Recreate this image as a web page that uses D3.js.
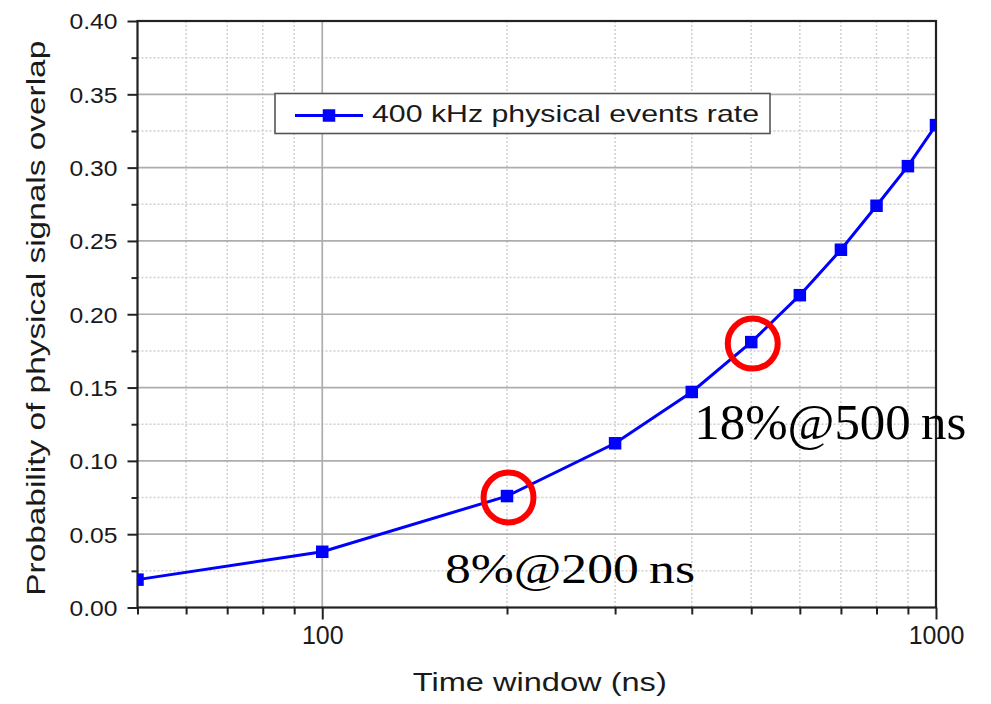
<!DOCTYPE html>
<html>
<head>
<meta charset="utf-8">
<script src="https://cdn.jsdelivr.net/npm/d3@7/dist/d3.min.js"></script>
<style>
  html, body { margin: 0; padding: 0; background: #fff; }
  svg { display: block; }
</style>
</head>
<body>
<svg id="chart" width="991" height="704"></svg>
<script>
// ---- data ----
const timeWindow = [50, 100, 200, 300, 400, 500, 600, 700, 800, 900, 1000];
const overlapProb = [0.019, 0.038, 0.076, 0.112, 0.147, 0.181, 0.213, 0.244, 0.274, 0.301, 0.329];
const seriesName = "400 kHz physical events rate";
const xMajorTicks = [100, 1000];
const xMinorTicks = [50, 60, 70, 80, 90, 200, 300, 400, 500, 600, 700, 800, 900];
const yMajorTicks = [0, 0.05, 0.10, 0.15, 0.20, 0.25, 0.30, 0.35, 0.40];
const yMinorTicks = [0.025, 0.075, 0.125, 0.175, 0.225, 0.275, 0.325, 0.375];
const highlights = [
  { x: 200, y: 0.076, label: "8%@200\u2009ns" },
  { x: 500, y: 0.181, label: "18%@500\u2009ns" }
];
const xTitle = "Time window (ns)";
const yTitle = "Probability of physical signals overlap";

// ---- layout ----
const L = 137.5, R = 936, T = 21, B = 607.5;
const svg = d3.select("#chart");
const x = d3.scaleLog().domain([50, 1000]).range([L, R]);
const y = d3.scaleLinear().domain([0, 0.4]).range([B, T]);
const sans = "Liberation Sans, Arial, sans-serif";
const serif = "Liberation Serif, Times New Roman, serif";

svg.append("defs").append("clipPath").attr("id", "plotclip")
  .append("rect").attr("x", L).attr("y", T).attr("width", R - L).attr("height", B - T);

// ---- grid ----
const grid = svg.append("g");
grid.selectAll(".ymin").data(yMinorTicks).join("line")
  .attr("x1", L).attr("x2", R).attr("y1", d => y(d)).attr("y2", d => y(d))
  .attr("stroke", "#d0d0d0").attr("stroke-width", 1.5).attr("stroke-dasharray", "2,2");
grid.selectAll(".xmin").data(xMinorTicks.filter(d => d > 50)).join("line")
  .attr("y1", T).attr("y2", B).attr("x1", d => x(d)).attr("x2", d => x(d))
  .attr("stroke", "#d0d0d0").attr("stroke-width", 1.5).attr("stroke-dasharray", "2,2");
grid.selectAll(".ymaj").data(yMajorTicks.filter(d => d > 0 && d < 0.4)).join("line")
  .attr("x1", L).attr("x2", R).attr("y1", d => y(d)).attr("y2", d => y(d))
  .attr("stroke", "#adadad").attr("stroke-width", 1.7);
grid.selectAll(".xmaj").data(xMajorTicks.filter(d => d < 1000)).join("line")
  .attr("y1", T).attr("y2", B).attr("x1", d => x(d)).attr("x2", d => x(d))
  .attr("stroke", "#adadad").attr("stroke-width", 1.7);

// ---- axes ----
function styleAxis(g) {
  g.select(".domain").remove();
  g.selectAll("line").attr("stroke", "#222").attr("stroke-width", 2);
}
svg.append("g").attr("transform", `translate(0,${B})`)
  .call(d3.axisBottom(x).tickValues(xMinorTicks).tickSize(7).tickFormat(""))
  .call(styleAxis);
const xMaj = svg.append("g").attr("transform", `translate(0,${B})`)
  .call(d3.axisBottom(x).tickValues(xMajorTicks).tickSize(12).tickPadding(7).tickFormat(d3.format("d")))
  .call(styleAxis);
xMaj.selectAll("text").attr("font-family", sans).attr("font-size", 25).attr("fill", "#1a1a1a")
  .attr("dy", "0.71em");

svg.append("g").attr("transform", `translate(${L},0)`)
  .call(d3.axisLeft(y).tickValues(yMinorTicks).tickSize(6).tickFormat(""))
  .call(styleAxis);
const yMaj = svg.append("g").attr("transform", `translate(${L},0)`)
  .call(d3.axisLeft(y).tickValues(yMajorTicks).tickSize(10).tickPadding(10).tickFormat(d3.format(".2f")))
  .call(styleAxis);
yMaj.selectAll("text").attr("font-family", sans).attr("font-size", 22).attr("fill", "#1a1a1a")
  .attr("textLength", 48).attr("lengthAdjust", "spacingAndGlyphs").attr("dy", "0.36em");

// frame
svg.append("rect").attr("x", L).attr("y", T).attr("width", R - L).attr("height", B - T)
  .attr("fill", "none").attr("stroke", "#222").attr("stroke-width", 2.2);

// ---- series ----
const pts = timeWindow.map((t, i) => [t, overlapProb[i]]);
const plot = svg.append("g").attr("clip-path", "url(#plotclip)");
plot.append("path").datum(pts)
  .attr("d", d3.line().x(d => x(d[0])).y(d => y(d[1])))
  .attr("fill", "none").attr("stroke", "#0000ff").attr("stroke-width", 3);
const ms = 12.5;
plot.selectAll(".m").data(pts).join("rect")
  .attr("x", d => x(d[0]) - ms / 2).attr("y", d => y(d[1]) - ms / 2)
  .attr("width", ms).attr("height", ms).attr("fill", "#0000ff");

// ---- highlights ----
svg.selectAll(".hc").data(highlights).join("circle")
  .attr("cx", d => x(d.x) + 1.5).attr("cy", d => y(d.y) + 1.5).attr("r", 25)
  .attr("fill", "none").attr("stroke", "#ff0000").attr("stroke-width", 6);
svg.append("text").datum(highlights[0])
  .attr("x", d => x(d.x) - 62).attr("y", d => y(d.y) + 87)
  .attr("font-family", serif).attr("font-size", 43).attr("fill", "#000")
  .attr("textLength", 250).attr("lengthAdjust", "spacingAndGlyphs")
  .text(d => d.label);
svg.append("text").datum(highlights[1])
  .attr("x", d => x(d.x) - 57).attr("y", d => y(d.y) + 97)
  .attr("font-family", serif).attr("font-size", 50).attr("fill", "#000")
  .attr("textLength", 272).attr("lengthAdjust", "spacingAndGlyphs")
  .text(d => d.label);

// ---- legend ----
const lg = svg.append("g");
lg.append("rect").attr("x", 275).attr("y", 93.5).attr("width", 495).attr("height", 40)
  .attr("fill", "#fff").attr("stroke", "#555").attr("stroke-width", 1.6);
lg.append("line").attr("x1", 295).attr("x2", 363).attr("y1", 115.5).attr("y2", 115.5)
  .attr("stroke", "#0000ff").attr("stroke-width", 3);
lg.append("rect").attr("x", 329 - ms / 2).attr("y", 115.5 - ms / 2).attr("width", ms).attr("height", ms)
  .attr("fill", "#0000ff");
lg.append("text").attr("x", 372).attr("y", 122)
  .attr("font-family", sans).attr("font-size", 24).attr("fill", "#1a1a1a")
  .attr("textLength", 387).attr("lengthAdjust", "spacingAndGlyphs")
  .text(seriesName);

// ---- titles ----
svg.append("text").attr("x", (L + R) / 2 + 3).attr("y", 691)
  .attr("text-anchor", "middle").attr("font-family", sans).attr("font-size", 25).attr("fill", "#1a1a1a")
  .attr("textLength", 254).attr("lengthAdjust", "spacingAndGlyphs")
  .text(xTitle);
svg.append("text").attr("transform", `translate(45,${(T + B) / 2 + 4}) rotate(-90)`)
  .attr("text-anchor", "middle").attr("font-family", sans).attr("font-size", 25).attr("fill", "#1a1a1a")
  .attr("textLength", 555).attr("lengthAdjust", "spacingAndGlyphs")
  .text(yTitle);
</script>
</body>
</html>
